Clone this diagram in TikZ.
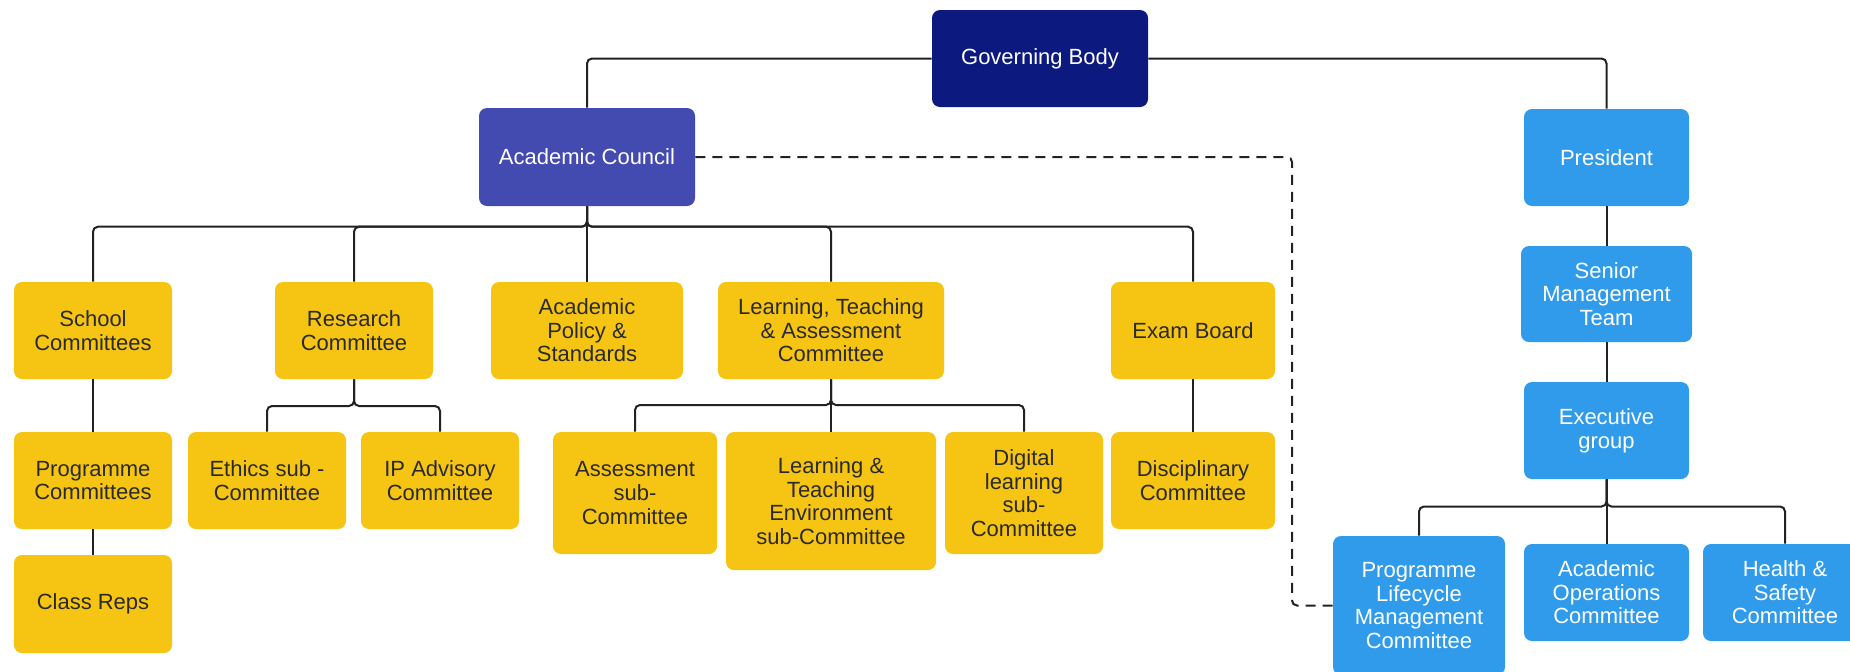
\documentclass[tikz,border=0pt]{standalone}
\usepackage{fontspec}
\setmainfont{Liberation Sans}
\definecolor{navy}{HTML}{0C1A80}
\definecolor{council}{HTML}{434AB0}
\definecolor{skyb}{HTML}{2F9BEA}
\definecolor{gold}{HTML}{F6C514}
\definecolor{ink}{HTML}{2A2A2A}
\definecolor{wire}{HTML}{222222}
\tikzset{
  box/.style={rectangle, rounded corners=4pt, inner sep=2pt, align=center,
    font=\fontsize{11}{11.8}\selectfont},
  gbox/.style={box, fill=navy, text=white},
  abox/.style={box, fill=council, text=white},
  bbox/.style={box, fill=skyb, text=white},
  ybox/.style={box, fill=gold, text=ink},
  link/.style={draw=wire, line width=1pt, rounded corners=2.5pt},
  dlink/.style={draw=wire, line width=1pt, dash pattern=on 5pt off 3.5pt, rounded corners=2.5pt}
}
\begin{document}
\begin{tikzpicture}[x=0.5pt, y=-0.5pt]
\useasboundingbox (0,0) rectangle (1850,671);
\clip (0,0) rectangle (1850,671);
\fill[white] (0,0) rectangle (1850,671);

% top level
\node[gbox, minimum width=108pt, minimum height=48.5pt] (GB) at (1040,58.5) {Governing Body};
\node[abox, minimum width=108pt, minimum height=49pt] (AC) at (587,157) {Academic Council};
\node[bbox, minimum width=82.5pt, minimum height=48.5pt] (PR) at (1606.5,157.5) {President};
\node[bbox, minimum width=85.5pt, minimum height=48pt] (SMT) at (1606.5,294) {Senior\\Management\\Team};
\node[bbox, minimum width=82.5pt, minimum height=48.5pt] (EX) at (1606.5,430.5) {Executive\\group};
\node[bbox, minimum width=86pt, minimum height=69.5pt] (PLMC) at (1419,605.5) {Programme\\Lifecycle\\Management\\Committee};
\node[bbox, minimum width=82.5pt, minimum height=48.5pt] (AOC) at (1606.5,592.5) {Academic\\Operations\\Committee};
\node[bbox, minimum width=82pt, minimum height=48.5pt] (HS) at (1785,592.5) {Health \&\\Safety\\Committee};

% academic side
\node[ybox, minimum width=79pt, minimum height=48.5pt] (SC) at (93,330.5) {School\\Committees};
\node[ybox, minimum width=79pt, minimum height=48.5pt] (RC) at (354,330.5) {Research\\Committee};
\node[ybox, minimum width=96pt, minimum height=48.5pt] (AP) at (587,330.5) {Academic\\Policy \&\\Standards};
\node[ybox, minimum width=113pt, minimum height=48.5pt] (LTA) at (831,330.5) {Learning, Teaching\\\& Assessment\\Committee};
\node[ybox, minimum width=82pt, minimum height=48.5pt] (EB) at (1193,330.5) {Exam Board};

\node[ybox, minimum width=79pt, minimum height=48.5pt] (PC) at (93,480.5) {Programme\\Committees};
\node[ybox, minimum width=79pt, minimum height=49pt] (CR) at (93,604) {Class Reps};
\node[ybox, minimum width=79pt, minimum height=48.5pt] (ETH) at (267,480.5) {Ethics sub -\\Committee};
\node[ybox, minimum width=79pt, minimum height=48.5pt] (IP) at (440,480.5) {IP Advisory\\Committee};
\node[ybox, minimum width=82pt, minimum height=61pt] (AS) at (635,493) {Assessment\\sub-\\Committee};
\node[ybox, minimum width=105pt, minimum height=69pt] (LTE) at (831,501) {Learning \&\\Teaching\\Environment\\sub-Committee};
\node[ybox, minimum width=79pt, minimum height=61pt] (DL) at (1024,493) {Digital\\learning\\sub-\\Committee};
\node[ybox, minimum width=82pt, minimum height=48.5pt] (DIS) at (1193,480.5) {Disciplinary\\Committee};

% bus levels
\coordinate (busA) at (0,226.7);
\coordinate (busR) at (0,406);
\coordinate (busL) at (0,405);
\coordinate (busE) at (0,506.5);
\coordinate (dashX) at (1292,0);

% governing body links
\draw[link] (GB.west) -| (AC.north);
\draw[link] (GB.east) -| (PR.north);

% academic council links
\foreach \c in {SC,RC,LTA,EB}{
  \draw[link] (AC.south) -- (AC.south |- busA) -| (\c.north);
}
\draw[link] (AC.south) -- (AP.north);

\draw[link] (SC.south) -- (PC.north);
\draw[link] (PC.south) -- (CR.north);
\foreach \c in {ETH,IP}{
  \draw[link] (RC.south) -- (RC.south |- busR) -| (\c.north);
}
\foreach \c in {AS,DL}{
  \draw[link] (LTA.south) -- (LTA.south |- busL) -| (\c.north);
}
\draw[link] (LTA.south) -- (LTE.north);
\draw[link] (EB.south) -- (DIS.north);

% president side
\draw[link] (PR.south) -- (SMT.north);
\draw[link] (SMT.south) -- (EX.north);
\foreach \c in {PLMC,HS}{
  \draw[link] (EX.south) -- (EX.south |- busE) -| (\c.north);
}
\draw[link] (EX.south) -- (AOC.north);

% dashed link
\draw[dlink] (AC.east) -- (AC.east -| dashX) -- (dashX |- PLMC.west) -- (PLMC.west);
\end{tikzpicture}
\end{document}
